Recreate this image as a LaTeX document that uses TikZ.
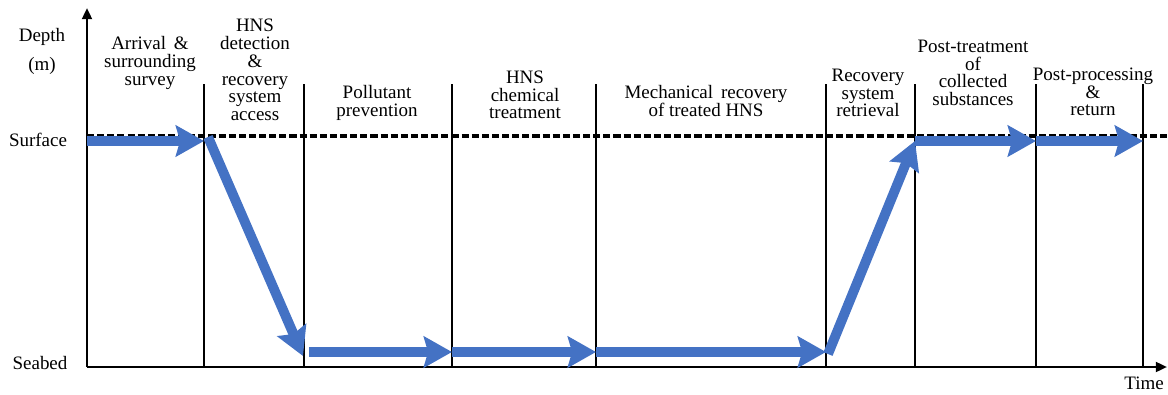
\documentclass[tikz,border=0pt]{standalone}
\usepackage{fontspec}
\setmainfont{Liberation Serif}
\usetikzlibrary{arrows.meta}
\definecolor{flowblue}{HTML}{4472C4}

\begin{document}
\begin{tikzpicture}[x=0.025cm,y=-0.025cm,
    every node/.style={align=center,inner sep=0pt,font=\fontsize{13.5}{12.6}\selectfont},
    axis/.style={line width=1.8pt,-{Triangle[length=8pt,width=7pt]}},
    phase/.style={line width=1.3pt},
    level/.style={line width=2.6pt,dash pattern=on 5pt off 2.2pt},
    flow/.style={draw=flowblue,line width=7pt,-{Stealth[length=20pt,width=22pt,inset=3pt]}}]
    \useasboundingbox (0,0) rectangle (1168,394);

    \coordinate (origin) at (87,367);
    \coordinate (ytop) at (87,8);
    \coordinate (xend) at (1167,367);
    \coordinate (lvl0) at (87,136);
    \coordinate (lvl1) at (1168,136);

    \node (depth) at (42,51) {Depth\\[8pt](m)};
    \node (surface) at (38,140) {Surface};
    \node (seabed) at (40,363) {Seabed};
    \node (time) at (1144,383) {Time};

    \node (p1) at (150,63) {Arrival \,\&\\surrounding\\survey};
    \node (p2) at (255,70) {HNS\\detection\\\&\\recovery\\system\\access};
    \node (p3) at (377,103) {Pollutant\\prevention};
    \node (p4) at (525,95) {HNS\\chemical\\treatment};
    \node (p5) at (706,101) {Mechanical \,recovery\\of treated HNS};
    \node (p6) at (868,93) {Recovery\\system\\retrieval};
    \node (p7) at (973,73) {Post-treatment\\of\\collected\\substances};
    \node (p8) at (1093,92) {Post-processing\\\&\\return};

    % phase borders
    \foreach \x [count=\i] in {204,304,452,596,826,915,1036,1143}
    {
        \coordinate (d\i) at (\x,84);
        \coordinate (e\i) at (\x,367);
        \draw[phase] (d\i) -- (e\i);
    }

    \draw[level] (lvl0) -- (lvl1);
    \draw[axis] (origin) -- (ytop);
    \draw[axis] (origin) -- (xend);

    % path of the recovery system
    \coordinate (a0) at (87,141);
    \coordinate (a1) at (204,141);
    \coordinate (a2) at (208,137);
    \coordinate (a3) at (303,356);
    \coordinate (b0) at (309,352);
    \coordinate (b1) at (452,352);
    \coordinate (b2) at (596,352);
    \coordinate (b3) at (826,352);
    \coordinate (c0) at (828,354);
    \coordinate (c1) at (915,141);
    \coordinate (c2) at (1036,141);
    \coordinate (c3) at (1143,141);

    \draw[flow] (a0) -- (a1);
    \draw[flow] (a2) -- (a3);
    \draw[flow] (b0) -- (b1);
    \draw[flow] (b1) -- (b2);
    \draw[flow] (b2) -- (b3);
    \draw[flow] (c0) -- (c1);
    \draw[flow] (c1) -- (c2);
    \draw[flow] (c2) -- (c3);
\end{tikzpicture}
\end{document}
